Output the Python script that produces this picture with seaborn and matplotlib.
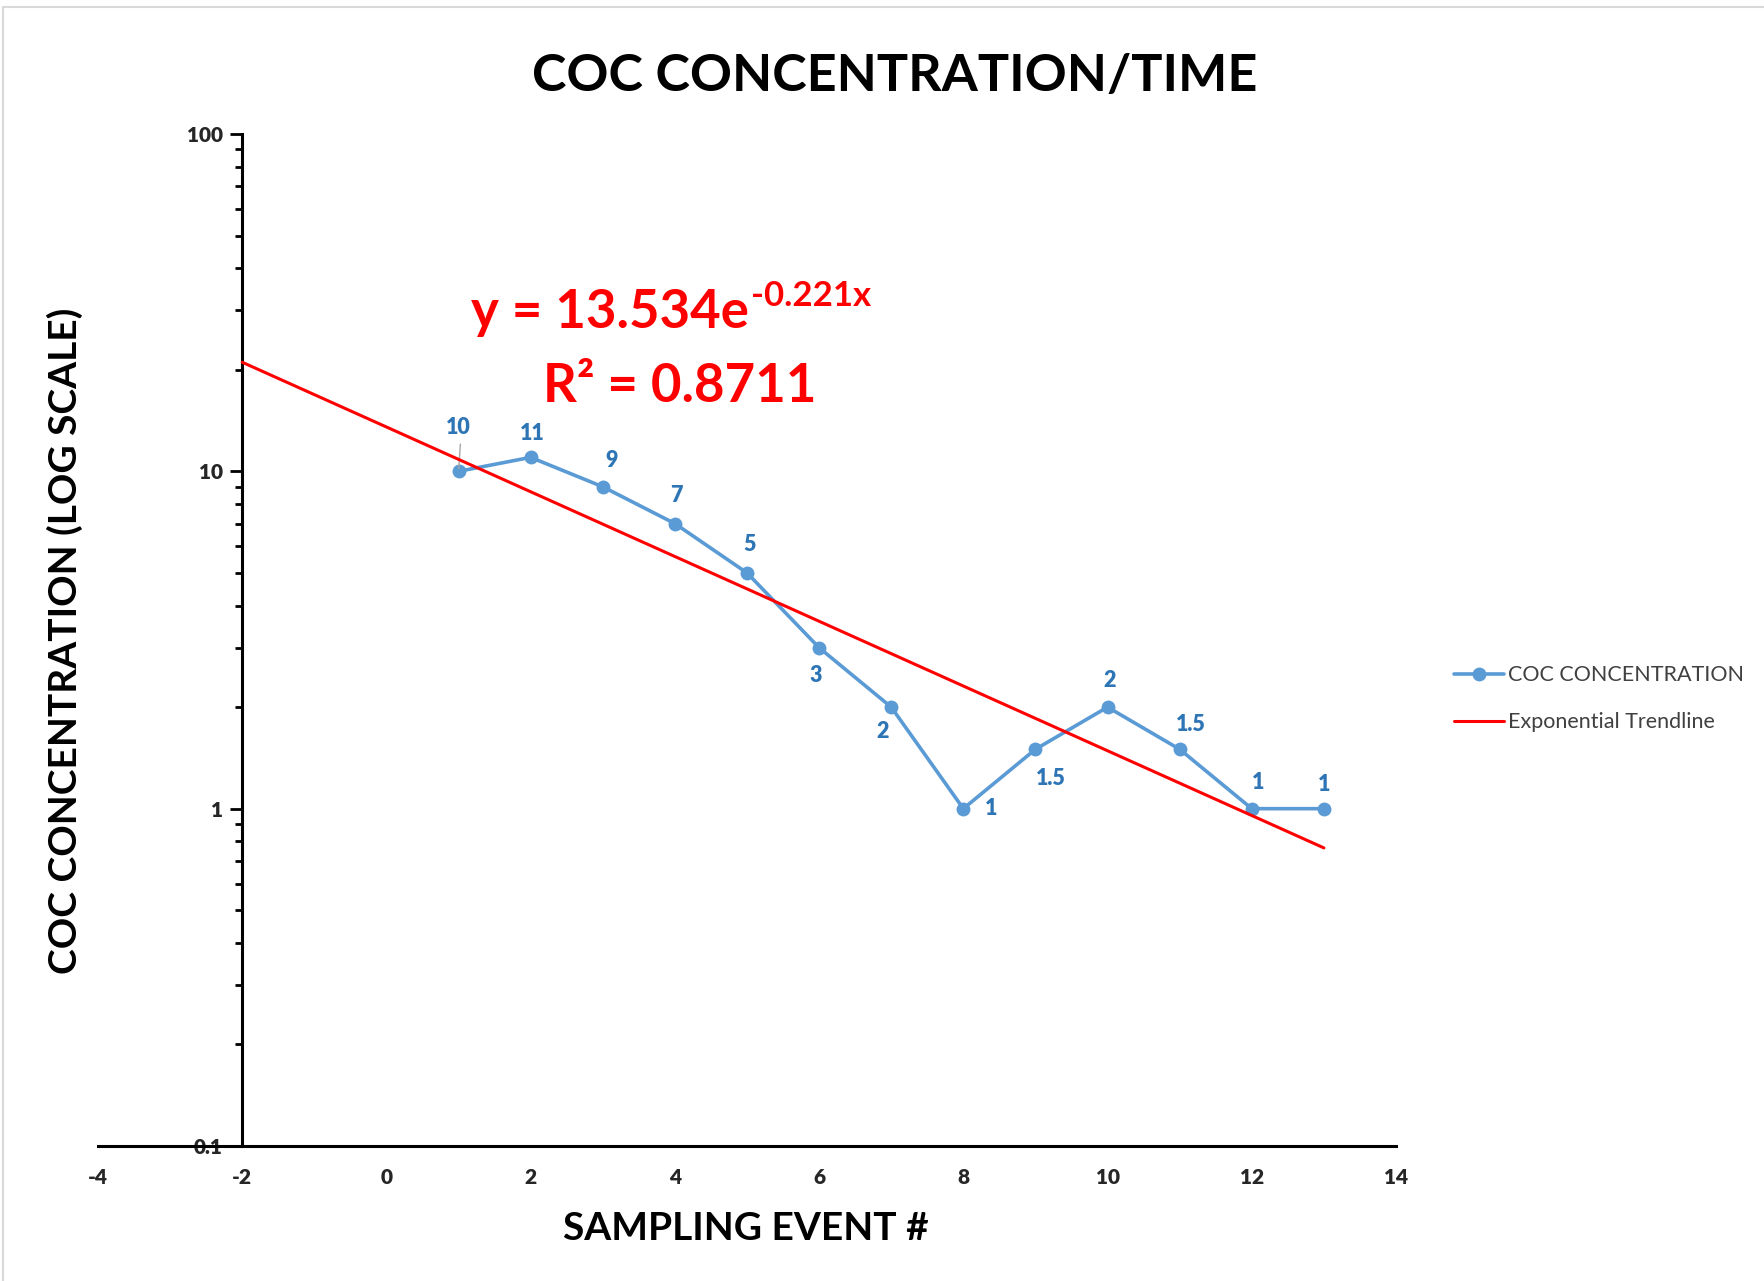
import matplotlib
matplotlib.use("Agg")
import matplotlib.pyplot as plt
import matplotlib.ticker as mticker
import numpy as np
import pandas as pd
import seaborn as sns

# ---- data ----
events = [1, 2, 3, 4, 5, 6, 7, 8, 9, 10, 11, 12, 13]
concentration = [10, 11, 9, 7, 5, 3, 2, 1, 1.5, 2, 1.5, 1, 1]
label_texts = ["10", "11", "9", "7", "5", "3", "2", "1", "1.5", "2", "1.5", "1", "1"]
trend_a = 13.534
trend_b = -0.221
trend_x_range = [-2, 13]
x_ticks = [-4, -2, 0, 2, 4, 6, 8, 10, 12, 14]
y_ticks = [0.1, 1, 10, 100]
y_tick_labels = ["0.1", "1", "10", "100"]

# label offsets in pixels (style)
label_offsets = [(0, 44), (2, 24), (9, 26), (1, 28), (3, 28), (-3, -28), (-9, -24),
                 (28, 0), (15, -29), (2, 27), (11, 25), (6, 26), (0, 24)]

sns.set_theme(style="white")
FONT = ["Lato", "DejaVu Sans"]
plt.rcParams["font.family"] = FONT

fig = plt.figure(figsize=(17.65, 12.81), dpi=100)
ax = fig.add_axes([98 / 1765, 1 - 1146 / 1281, (1396 - 98) / 1765, (1146 - 134) / 1281])

df = pd.DataFrame({"event": events, "conc": concentration})
tx = np.linspace(trend_x_range[0], trend_x_range[1], 50)
tdf = pd.DataFrame({"x": tx, "y": trend_a * np.exp(trend_b * tx)})

sns.lineplot(data=df, x="event", y="conc", ax=ax, color="#5B9BD5", linewidth=2.6,
             marker="o", markersize=10, markeredgewidth=0, label="COC CONCENTRATION", zorder=3)
sns.lineplot(data=tdf, x="x", y="y", ax=ax, color="#FF0000", linewidth=2.2,
             label="Exponential Trendline", zorder=4)

ax.set_yscale("log")
ax.set_xlim(-4, 14)
ax.set_ylim(0.1, 100)

for x, y, t, (dx, dy) in zip(events, concentration, label_texts, label_offsets):
    ax.annotate(t, (x, y), xytext=(dx, dy), textcoords="offset pixels",
                ha="center", va="center", fontsize=15.5, fontweight="heavy",
                color="#2E75B6", zorder=5)
# leader line for first label
ax.annotate("", (events[0], concentration[0]), xytext=(2, 30), textcoords="offset pixels",
            arrowprops=dict(arrowstyle="-", color="#A6A6A6", lw=1))

# spines
for s in ["top", "right"]:
    ax.spines[s].set_visible(False)
ax.spines["left"].set_position(("data", -2))
ax.spines["left"].set_color("black")
ax.spines["left"].set_linewidth(2.2)
ax.spines["bottom"].set_color("black")
ax.spines["bottom"].set_linewidth(2.2)

ax.yaxis.set_minor_locator(mticker.LogLocator(base=10, subs=np.arange(2, 10)))
ax.yaxis.set_minor_formatter(mticker.NullFormatter())
ax.tick_params(axis="y", which="major", direction="out", length=9, width=2, color="black",
               left=True, pad=5)
ax.tick_params(axis="y", which="minor", direction="out", length=5, width=2, color="black", left=True)
ax.tick_params(axis="x", which="both", length=0, pad=16)
ax.set_xticks(x_ticks)
ax.set_xticklabels([str(v) for v in x_ticks], fontsize=15, fontweight="heavy", color="#262626")
ax.set_yticks(y_ticks)
ax.set_yticklabels(y_tick_labels, fontsize=15, fontweight="heavy", color="#262626")

ax.set_xlabel("")
ax.set_ylabel("")
ax.grid(False)

fig.text(895 / 1765, 1 - 77 / 1281, "COC CONCENTRATION/TIME", ha="center", va="center",
         fontsize=37.5, fontweight="bold", color="black")
fig.text(746 / 1765, 1 - 1229 / 1281, "SAMPLING EVENT #", ha="center", va="center",
         fontsize=28, fontweight="bold", color="black")
fig.text(65 / 1765, 1 - 641 / 1281, "COC CONCENTRATION (LOG SCALE)", ha="center", va="center",
         rotation=90, fontsize=28, fontweight="bold", color="black")

eq_main = fig.text(471 / 1765, 1 - 312 / 1281, "y = 13.534e", ha="left", va="center",
                   fontsize=38, fontweight="bold", color="#FF0000")
sup = plt.Annotation("-0.221x", xy=(1.0, 1.0), xycoords=eq_main, xytext=(2, 8),
                     textcoords="offset pixels", ha="left", va="top",
                     fontsize=25, fontweight="bold", color="#FF0000")
fig.add_artist(sup)
fig.text(680 / 1765, 1 - 387 / 1281, "R\u00b2 = 0.8711", ha="center", va="center",
         fontsize=38, fontweight="bold", color="#FF0000")

leg = ax.legend(loc="center left", bbox_to_anchor=(1.03, 0.442), frameon=False,
                fontsize=15.5, handlelength=2.3, labelspacing=1.25, handletextpad=0.2)
for t in leg.get_texts():
    t.set_color("#404040")

# screenshot frame
fig.add_artist(plt.Line2D([3 / 1765, 1], [1 - 7 / 1281, 1 - 7 / 1281], transform=fig.transFigure,
                          color="#D9D9D9", lw=1.5))
fig.add_artist(plt.Line2D([3 / 1765, 3 / 1765], [0, 1 - 7 / 1281], transform=fig.transFigure,
                          color="#D9D9D9", lw=1.5))

fig.savefig("out.png", dpi=100)
